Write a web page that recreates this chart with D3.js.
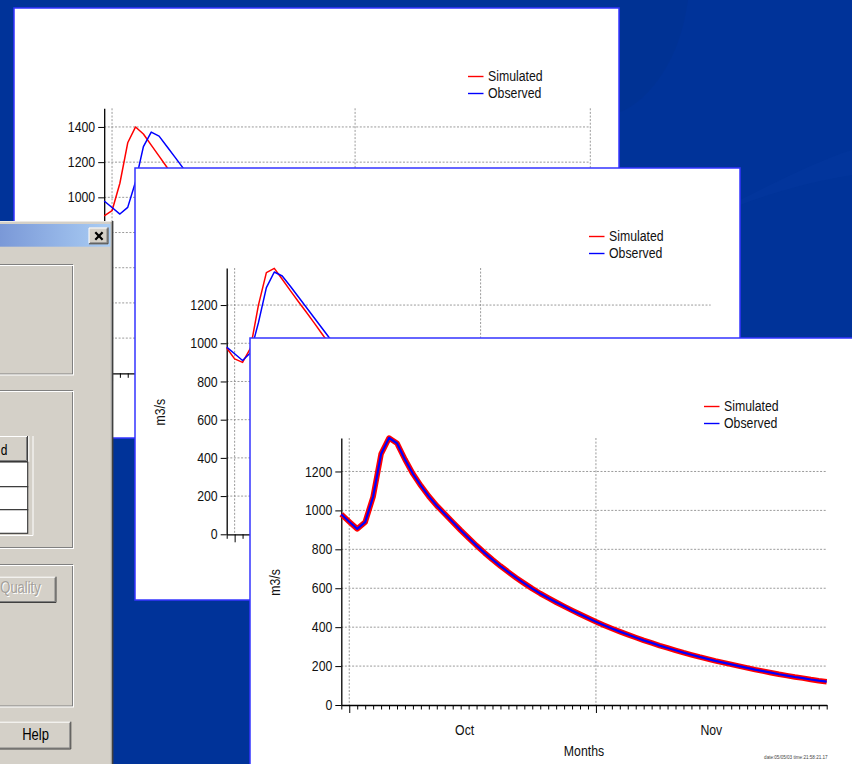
<!DOCTYPE html>
<html><head><meta charset="utf-8">
<script src="https://cdn.jsdelivr.net/npm/d3@7"></script>
<style>html,body{margin:0;padding:0;overflow:hidden;background:#003399}</style>
</head><body>
<svg id="c" width="852" height="764"></svg>
<script>
// ---------------- data ----------------
const seriesNames = ["Simulated", "Observed"];
const monthNames = ["Oct", "Nov"];
const yUnit = "m3/s";
const xTitle = "Months";
const stamp = "date:05/05/03 time:21:58:21.17";
const yTicksBack = [0, 200, 400, 600, 800, 1000, 1200, 1400];
const yTicksFront = [0, 200, 400, 600, 800, 1000, 1200];

// back window (first calibration run), daily from Sep 30
const backSimulated = [894, 924, 1080, 1310, 1400, 1360, 1297, 1234, 1171, 1108, 1046, 985];
const backObserved  = [979, 942, 905, 943, 1089, 1288, 1371, 1348, 1289, 1230, 1170, 1110, 1050];
// middle window (second run)
const midSimulated = [975, 918, 900, 975, 1200, 1370, 1392, 1335, 1277, 1220, 1165, 1108, 1050, 993, 938];
const midObserved  = [980, 945, 910, 950, 1108, 1291, 1373, 1352, 1300, 1245, 1190, 1135, 1080, 1025, 970];
// front window (final run), Sep 30 .. Nov 30
const frontSimulated = [980, 942, 905, 940, 1070, 1290, 1372, 1345, 1262, 1188, 1127, 1072, 1024, 982, 940, 898,
  858, 819, 782, 747, 714, 683, 653, 625, 598, 573, 550, 528, 507, 486, 466, 447, 428, 410, 393, 377, 362,
  347, 332, 319, 305, 293, 281, 269, 258, 247, 237, 227, 218, 209, 200, 191, 182, 174, 166, 158, 151, 144,
  138, 131, 125, 120];
const frontObserved = [980, 942, 905, 940, 1070, 1290, 1372, 1345, 1262, 1188, 1127, 1072, 1024, 982, 940, 898,
  858, 819, 782, 747, 714, 683, 653, 625, 598, 573, 550, 528, 507, 486, 466, 447, 428, 410, 393, 377, 362,
  347, 332, 319, 305, 293, 281, 269, 258, 247, 237, 227, 218, 209, 200, 191, 182, 174, 166, 158, 151, 144,
  138, 131, 125, 120];

const startDate = new Date(Date.UTC(2002, 8, 30));
const FONT = "'Liberation Sans', Arial, sans-serif";
const STRETCH = "scale(1,1.15)";

const svg = d3.select("#c");
const defs = svg.append("defs");

// ---------------- background ----------------
svg.append("rect").attr("width", 852).attr("height", 764).attr("fill", "#003399");
svg.append("path").attr("d", "M688,0 C680,60 650,100 620,112 L620,0 Z").attr("fill", "#00318f").attr("opacity", 0.5);
svg.append("path").attr("d", "M740,200 C780,180 820,160 852,150 L852,175 C820,180 780,190 740,205 Z").attr("fill", "#05399f").attr("opacity", 0.4);

// ---------------- chart window ----------------
function drawWindow(cfg) {
  const clipId = "clip" + cfg.id;
  defs.append("clipPath").attr("id", clipId)
    .append("rect").attr("x", 0).attr("y", 0).attr("width", cfg.ww).attr("height", cfg.wh);
  const g = svg.append("g").attr("transform", `translate(${cfg.wx},${cfg.wy})`);
  g.append("rect").attr("x", 0).attr("y", 0).attr("width", cfg.ww).attr("height", cfg.wh)
    .attr("fill", "#fff").attr("stroke", "#3535ff").attr("stroke-width", 1.5);
  const c = g.append("g").attr("clip-path", `url(#${clipId})`);

  const endDate = d3.utcDay.offset(startDate, cfg.days);
  const x = d3.scaleUtc().domain([startDate, endDate]).range([cfg.left, cfg.right]);
  const y = d3.scaleLinear().domain([0, cfg.ymax]).range([cfg.bottom, cfg.top]);

  // grid
  const grid = c.append("g").attr("stroke", "#8e8e8e").attr("stroke-width", 0.9).attr("stroke-dasharray", "2,1.6");
  cfg.yTicks.filter(v => v > 0).forEach(v => {
    grid.append("line").attr("x1", cfg.left).attr("x2", cfg.right).attr("y1", y(v)).attr("y2", y(v));
  });
  const months = d3.utcMonth.range(d3.utcDay.offset(startDate, 1), d3.utcDay.offset(endDate, 1));
  months.forEach(m => {
    grid.append("line").attr("x1", x(m)).attr("x2", x(m)).attr("y1", cfg.top).attr("y2", cfg.bottom);
  });

  // axes
  const xa = c.append("g").attr("transform", `translate(0,${cfg.bottom})`)
    .call(d3.axisBottom(x).ticks(d3.utcDay.every(1)).tickSize(4).tickSizeOuter(0).tickFormat(""));
  xa.selectAll(".tick line").attr("y2", d => (d.getUTCDate() === 1 ? 8 : 4.5));
  const ya = c.append("g").attr("transform", `translate(${cfg.left},0)`)
    .call(d3.axisLeft(y).tickValues(cfg.yTicks).tickSize(6).tickPadding(3).tickSizeOuter(0).tickFormat(d3.format("d")));
  [xa, ya].forEach(a => {
    a.select(".domain").attr("stroke", "#000").attr("stroke-width", 1.3);
    a.selectAll(".tick line").attr("stroke", "#000").attr("stroke-width", 1);
  });
  ya.selectAll(".tick text").attr("font-family", FONT).attr("font-size", 12.3).attr("fill", "#111").attr("transform", STRETCH);

  // month labels
  monthNames.forEach((mName, i) => {
    const m = months[i];
    if (!m) return;
    const cx = x(new Date(m.getTime() + 14.5 * 86400000));
    c.append("text").attr("transform", `translate(${cx},${cfg.bottom + 30}) ${STRETCH}`)
      .attr("text-anchor", "middle").attr("font-family", FONT).attr("font-size", 12.3).attr("fill", "#111").text(mName);
  });
  c.append("text").attr("transform", `translate(${(cfg.left + cfg.right) / 2},${cfg.bottom + 51}) ${STRETCH}`)
    .attr("text-anchor", "middle").attr("font-family", FONT).attr("font-size", 12.3).attr("fill", "#111").text(xTitle);
  c.append("text").attr("transform", `translate(30,${(cfg.top + cfg.bottom) / 2 + 11}) rotate(-90) ${STRETCH}`)
    .attr("text-anchor", "middle").attr("font-family", FONT).attr("font-size", 12.3).attr("fill", "#111").text(yUnit);
  c.append("text").attr("x", cfg.right + 1).attr("y", cfg.bottom + 54).attr("text-anchor", "end")
    .attr("font-family", FONT).attr("font-size", 4.6).attr("fill", "#444").text(stamp);

  // series
  const line = d3.line().x((d, i) => x(d3.utcDay.offset(startDate, i))).y(d => y(d));
  c.append("path").datum(cfg.sim).attr("d", line).attr("fill", "none").attr("stroke", "#ff0000")
    .attr("stroke-width", cfg.simW).attr("stroke-linejoin", "round");
  c.append("path").datum(cfg.obs).attr("d", line).attr("fill", "none").attr("stroke", "#0000ff")
    .attr("stroke-width", cfg.obsW).attr("stroke-linejoin", "round");

  // legend
  const colors = ["#ff0000", "#0000ff"];
  seriesNames.forEach((n, i) => {
    const ly = 68.5 + i * 17;
    c.append("line").attr("x1", 454).attr("x2", 469.5).attr("y1", ly).attr("y2", ly)
      .attr("stroke", colors[i]).attr("stroke-width", 1.4);
    c.append("text").attr("transform", `translate(474,${ly + 4.3}) ${STRETCH}`)
      .attr("font-family", FONT).attr("font-size", 12.3).attr("fill", "#111").text(n);
  });
}

// ---------------- dialog ----------------
function bevel(g, x0, y0, x1, y1) {
  g.append("rect").attr("x", x0).attr("y", y0).attr("width", x1 - x0).attr("height", y1 - y0).attr("fill", "#d4d0c8");
  g.append("path").attr("d", `M${x0},${y1 - 1} V${y0 + 0.5} H${x1 - 1}`).attr("fill", "none").attr("stroke", "#fff");
  g.append("path").attr("d", `M${x0 + 1},${y1 - 1.5} H${x1 - 1.5} V${y0 + 1}`).attr("fill", "none").attr("stroke", "#808080");
  g.append("path").attr("d", `M${x0},${y1 - 0.5} H${x1 - 0.5} V${y0}`).attr("fill", "none").attr("stroke", "#404040");
}
function etched(g, y0, y1, x1) {
  g.append("rect").attr("x", -10).attr("y", y0 + 0.5).attr("width", x1 - 1 + 10).attr("height", y1 - y0 - 1)
    .attr("fill", "none").attr("stroke", "#808080");
  g.append("rect").attr("x", -9).attr("y", y0 + 1.5).attr("width", x1 - 1 + 10).attr("height", y1 - y0 - 1)
    .attr("fill", "none").attr("stroke", "#fff");
}
function drawDialog() {
  const g = svg.append("g");
  g.append("rect").attr("x", -5).attr("y", 221).attr("width", 118).attr("height", 560).attr("fill", "#d4d0c8");
  g.append("line").attr("x1", -5).attr("x2", 112).attr("y1", 221.5).attr("y2", 221.5).attr("stroke", "#ece9e4");
  g.append("line").attr("x1", 112.6).attr("x2", 112.6).attr("y1", 221).attr("y2", 764).attr("stroke", "#404040").attr("stroke-width", 1.6);
  g.append("line").attr("x1", 111.3).attr("x2", 111.3).attr("y1", 222).attr("y2", 764).attr("stroke", "#9a9a9a").attr("stroke-width", 1);
  const gr = defs.append("linearGradient").attr("id", "tbar").attr("x1", 0).attr("x2", 1).attr("y1", 0).attr("y2", 0);
  gr.append("stop").attr("offset", 0).attr("stop-color", "#7896d6");
  gr.append("stop").attr("offset", 1).attr("stop-color", "#aacdf4");
  g.append("rect").attr("x", -5).attr("y", 224).attr("width", 115.5).attr("height", 22.7).attr("fill", "url(#tbar)");
  bevel(g, 89, 227.5, 108.5, 244.3);
  g.append("path").attr("d", "M95.3,232.3 L102.6,239.7 M102.6,232.3 L95.3,239.7").attr("stroke", "#000").attr("stroke-width", 2.2);

  etched(g, 264, 374.5, 73.5);
  etched(g, 390, 548, 73.5);
  etched(g, 564, 706.5, 73.5);

  // table
  bevel(g, -10, 436, 28, 462);
  g.append("rect").attr("x", 28).attr("y", 436).attr("width", 4.5).attr("height", 26).attr("fill", "#d4d0c8");
  g.append("line").attr("x1", 28.8).attr("x2", 28.8).attr("y1", 436).attr("y2", 462).attr("stroke", "#fff");
  g.append("line").attr("x1", 33).attr("x2", 33).attr("y1", 436).attr("y2", 535.5).attr("stroke", "#fff");
  g.append("line").attr("x1", -10).attr("x2", 33).attr("y1", 535.5).attr("y2", 535.5).attr("stroke", "#fff");
  g.append("text").attr("transform", `translate(0.8,455) scale(1,1.2)`).attr("text-anchor", "start")
    .attr("font-family", FONT).attr("font-size", 12).attr("fill", "#000").text("d");
  [[462, 486.7], [486.7, 509.7], [509.7, 533.3]].forEach(([a, b]) => {
    g.append("rect").attr("x", -10).attr("y", a).attr("width", 37.7).attr("height", b - a)
      .attr("fill", "#fff").attr("stroke", "#333").attr("stroke-width", 1.1);
  });

  bevel(g, -20, 576.7, 56.5, 603);
  g.append("text").attr("transform", `translate(21.5,594) scale(1,1.2)`).attr("text-anchor", "middle")
    .attr("font-family", FONT).attr("font-size", 13).attr("fill", "#fff").text("Quality");
  g.append("text").attr("transform", `translate(20.5,593) scale(1,1.2)`).attr("text-anchor", "middle")
    .attr("font-family", FONT).attr("font-size", 13).attr("fill", "#a4a09a").text("Quality");
  bevel(g, -20, 721.7, 71.3, 749.5);
  g.append("text").attr("transform", `translate(35.5,740) scale(1,1.2)`).attr("text-anchor", "middle")
    .attr("font-family", FONT).attr("font-size", 13).attr("fill", "#000").text("Help");
}

// ---------------- compose ----------------
drawWindow({ id: 1, wx: 14, wy: 8, ww: 605, wh: 430, left: 90.2, right: 576.3, top: 100.3, bottom: 365.3,
  days: 62, ymax: 1506, yTicks: yTicksBack, sim: backSimulated, obs: backObserved, simW: 1.5, obsW: 1.5 });
drawDialog();
drawWindow({ id: 2, wx: 135, wy: 168, ww: 605, wh: 432, left: 91.7, right: 575.7, top: 100, bottom: 366.3,
  days: 61, ymax: 1394, yTicks: yTicksFront, sim: midSimulated, obs: midObserved, simW: 1.5, obsW: 1.5 });
drawWindow({ id: 3, wx: 250, wy: 338, ww: 605, wh: 432, left: 91.3, right: 576.7, top: 100, bottom: 367,
  days: 61, ymax: 1372, yTicks: yTicksFront, sim: frontSimulated, obs: frontObserved, simW: 5.5, obsW: 2.2 });
</script>
</body></html>
